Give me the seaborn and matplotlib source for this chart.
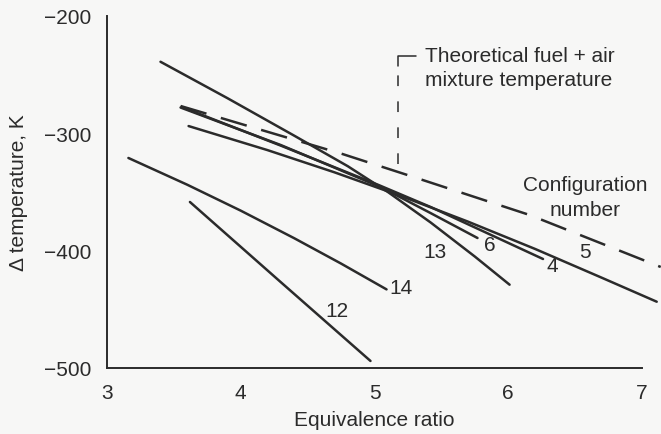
import matplotlib
matplotlib.use("Agg")
import matplotlib.pyplot as plt
import seaborn as sns
import pandas as pd

# ---- data ----
eq_12 = [3.62, 4.29, 4.97]
dt_12 = [-358.5, -425.9, -494.0]

eq_14 = [3.16, 3.60, 4.00, 4.40, 4.75, 5.09]
dt_14 = [-321.0, -343.8, -365.9, -389.4, -411.0, -433.0]

eq_13 = [3.40, 3.90, 4.40, 4.80, 5.10, 5.42, 5.75, 6.01]
dt_13 = [-239.0, -270.0, -302.0, -328.0, -350.0, -376.0, -405.0, -429.0]

eq_6 = [3.55, 4.30, 5.05, 5.42, 5.77]
dt_6 = [-278.0, -310.0, -346.0, -368.0, -389.2]

eq_4 = [3.56, 4.30, 5.03, 5.42, 6.26]
dt_4 = [-277.6, -310.5, -344.0, -362.8, -407.1]

eq_5 = [3.61, 4.20, 4.70, 5.20, 5.70, 6.20, 6.70, 7.11]
dt_5 = [-293.8, -314.3, -333.2, -353.5, -375.3, -398.5, -423.1, -443.5]

eq_theory = [3.55, 4.76, 5.27, 6.16, 7.14]
dt_theory = [-276.7, -317.6, -336.4, -369.6, -413.9]

config_labels = ["12", "14", "13", "6", "4", "5"]
label_x = [4.72, 5.20, 5.45, 5.86, 6.33, 6.57]
label_y = [-450.6, -431.8, -401.0, -395.0, -413.0, -401.0]

x_ticks = [3, 4, 5, 6, 7]
y_ticks = [-500, -400, -300, -200]

BG = "#f7f7f6"
INK = "#2b2b2b"

sns.set_theme(style="white")
plt.rcParams["font.family"] = ["Liberation Sans", "DejaVu Sans"]
plt.rcParams["axes.unicode_minus"] = True

fig = plt.figure(figsize=(6.61, 4.35), dpi=100, facecolor=BG)
ax = fig.add_axes([107 / 661, 66 / 435, 554 / 661, 352 / 435])
ax.set_facecolor(BG)

solid = [(eq_12, dt_12), (eq_14, dt_14), (eq_13, dt_13),
         (eq_6, dt_6), (eq_4, dt_4), (eq_5, dt_5)]
for xs, ys in solid:
    df = pd.DataFrame({"eq": xs, "dt": ys})
    sns.lineplot(data=df, x="eq", y="dt", ax=ax, color=INK, lw=1.8,
                 sort=False, estimator=None)

df_t = pd.DataFrame({"eq": eq_theory, "dt": dt_theory})
sns.lineplot(data=df_t, x="eq", y="dt", ax=ax, color=INK, lw=1.8,
             sort=False, estimator=None)
ax.lines[-1].set_dashes((10.8, 6.0))

for t, x, y in zip(config_labels, label_x, label_y):
    ax.text(x, y, t, fontsize=15, color=INK, ha="center", va="center")

# bracket for the theoretical line annotation
ax.plot([5.176, 5.176], [-326, -243], color=INK, lw=1.1, dashes=(7, 10))
ax.plot([5.176, 5.176, 5.31], [-243, -234, -234], color=INK, lw=1.1)
ax.text(5.378, -234, "Theoretical fuel + air", fontsize=15, color=INK,
        ha="left", va="center")
ax.text(5.378, -254.5, "mixture temperature", fontsize=15, color=INK,
        ha="left", va="center")

ax.text(6.574, -343.5, "Configuration", fontsize=15, color=INK,
        ha="center", va="center")
ax.text(6.574, -364.5, "number", fontsize=15, color=INK,
        ha="center", va="center")

ax.set_xlim(3, 3 + 554 / 133.75)
ax.set_ylim(-500, -200)
ax.set_xticks(x_ticks)
ax.set_yticks(y_ticks)
ax.tick_params(axis="both", direction="in", length=18, width=1.4,
               color=INK, labelcolor=INK, labelsize=15)
ax.tick_params(axis="y", pad=11.5)
ax.tick_params(axis="x", pad=10.5)

for s in ["top", "right"]:
    ax.spines[s].set_visible(False)
for s in ["left", "bottom"]:
    ax.spines[s].set_color(INK)
    ax.spines[s].set_linewidth(1.4)
ax.spines["bottom"].set_bounds(3, 7)
ax.spines["left"].set_bounds(-500, -200)

ax.set_xlabel("Equivalence ratio", fontsize=15, color=INK)
ax.set_ylabel("\u0394 temperature, K", fontsize=15, color=INK)
ax.xaxis.set_label_coords((374 - 107) / 554, (369 - 411) / 352)
ax.yaxis.set_label_coords((28 - 107) / 554, 0.5)

fig.savefig("out.png", dpi=100, facecolor=BG)
